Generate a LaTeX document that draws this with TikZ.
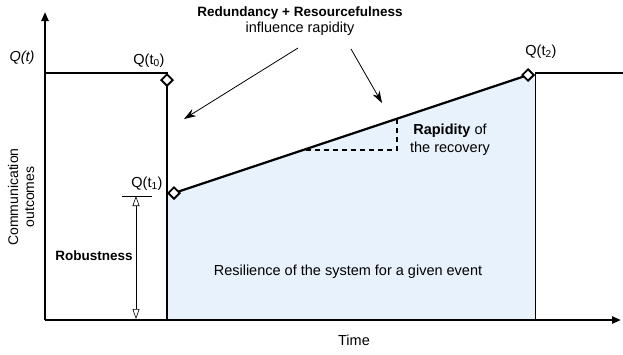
\documentclass[tikz,border=0pt]{standalone}
\usepackage{fontspec}
\setmainfont{Liberation Sans}
\usetikzlibrary{arrows.meta,shapes.geometric}
\definecolor{fillblue}{HTML}{E7F2FC}
\begin{document}
\begin{tikzpicture}[x=1pt,y=-1pt,
  thick line/.style={line width=2.2pt},
  thin line/.style={line width=0.8pt},
  marker/.style={draw,line width=1.9pt,fill=white,rectangle,minimum size=8pt,inner sep=0pt,rotate=45},
  lbl/.style={font=\fontsize{14.5}{16}\selectfont,inner sep=0pt},
  blbl/.style={font=\fontsize{13.5}{16}\selectfont\bfseries,inner sep=0pt},
  every node/.style={inner sep=0pt}]
\useasboundingbox (0,0) rectangle (623,354);
% fill
\fill[fillblue] (167,195) -- (528,75) -- (535,73) -- (535,320) -- (167,320) -- cycle;
% axes
\coordinate (o) at (45,320);
\coordinate (ytop) at (45,12);
\coordinate (xend) at (621,320);
\draw[thick line,-{Triangle[length=9pt,width=7pt]}] (o) -- (ytop);
\draw[thick line,-{Triangle[length=9pt,width=7pt]}] (o) -- (xend);
% curve
\coordinate (a0) at (45,73);
\coordinate (a1) at (167,73);
\coordinate (a2) at (167,320);
\coordinate (b0) at (535,73);
\coordinate (b1) at (623,73);
\coordinate (b2) at (535,320);
\coordinate (p1) at (174,193);
\coordinate (p2) at (528,75);
\draw[thick line] (a0) -- (a1) -- (a2);
\draw[thick line] (p1) -- (p2);
\draw[thick line] (b0) -- (b1);
\draw[thin line] (b0) -- (b2);
% markers
\node[marker] (d0) at (167,80) {};
\node[marker] (d1) at (p1) {};
\node[marker] (d2) at (p2) {};
% labels
\node[lbl,font=\fontsize{14.5}{16}\selectfont\itshape] (qt) at (22,58) {Q(t)};
\node[lbl] (q0) at (149,61) {Q(t\textsubscript{0})};
\node[lbl] (q1) at (147,184) {Q(t\textsubscript{1})};
\node[lbl] (q2) at (541,52) {Q(t\textsubscript{2})};
\node[lbl,rotate=90,align=center,font=\fontsize{14}{16}\selectfont] (yl) at (21,197) {Communication\\outcomes};
\node[lbl] (tl) at (354,340) {Time};
\node[align=center] (top) at (300,21) {{\fontsize{13.5}{16}\selectfont\bfseries Redundancy + Resourcefulness}\\[1pt]{\fontsize{14.5}{16}\selectfont influence rapidity}};
\node[lbl,align=center] (rap) at (450,140) {\textbf{Rapidity} of\\[2pt]the recovery};
\node[lbl] (res) at (348,272) {Resilience of the system for a given event};
\node[blbl] (rob) at (94,256) {Robustness};
% annotation arrows
\coordinate (s1) at (298,48);
\coordinate (e1) at (184,119);
\coordinate (s2) at (351,49);
\coordinate (e2) at (382,103);
\draw[thin line,-{Stealth[length=12pt,width=8pt]}] (s1) -- (e1);
\draw[thin line,-{Stealth[length=12pt,width=8pt]}] (s2) -- (e2);
% rapidity dashed
\coordinate (r0) at (306,150);
\coordinate (r1) at (397,150);
\coordinate (r2) at (397,119);
\draw[line width=1.2pt,dash pattern=on 5pt off 4pt] (r0) -- (r1) -- (r2);
% robustness dimension
\coordinate (t0) at (122,196);
\coordinate (t1) at (152,196);
\coordinate (m0) at (136,196);
\coordinate (m1) at (136,319);
\draw[thin line] (t0) -- (t1);
\draw[line width=0.6pt,{Triangle[open,length=10pt,width=7pt]}-{Triangle[open,length=10pt,width=7pt]}] (m0) -- (m1);
\end{tikzpicture}
\end{document}
